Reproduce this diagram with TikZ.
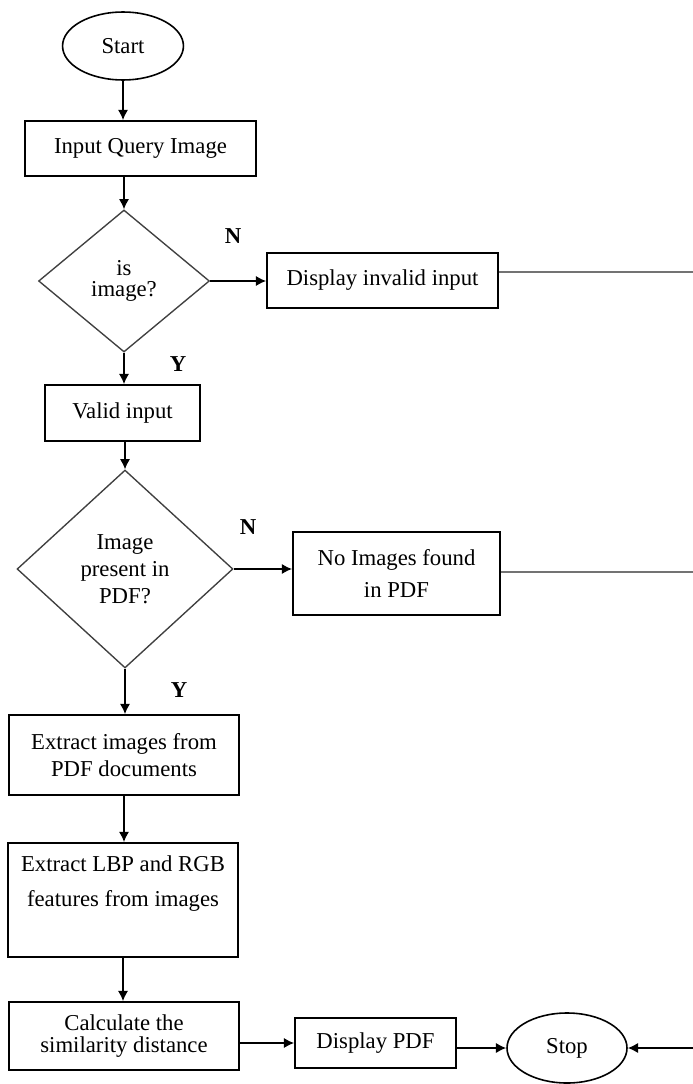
\documentclass[tikz,border=0pt]{standalone}
\usepackage{fontspec}
\setmainfont{Liberation Serif}
\usetikzlibrary{shapes.geometric,arrows.meta}

\tikzset{
  procbox/.style={rectangle, draw, line width=0.8pt, align=center, inner sep=2pt},
  termnode/.style={ellipse, draw, line width=0.7pt, inner sep=0pt},
  decision/.style={diamond, draw=black!75, line width=0.6pt, align=center, inner sep=0pt},
  flow/.style={line width=0.7pt, -{Latex[length=4.5pt,width=4.5pt]}},
  tolink/.style={line width=0.9pt, draw=black!55},
  answer/.style={font=\bfseries}
}

\begin{document}
\begin{tikzpicture}[x=0.44pt, y=-0.44pt]
\useasboundingbox (0,0) rectangle (693,1084);

% main column
\node[termnode, minimum width=53.2pt, minimum height=29.9pt] (start) at (123,46) {Start};
\node[procbox, minimum width=101.6pt, minimum height=24.2pt] (query) at (140.5,148.5) {Input Query Image};
\node[decision, minimum width=75.2pt, minimum height=62.5pt] (isimg) at (124,281) {is\\[-3pt]image?};
\node[procbox, minimum width=68.2pt, minimum height=24.6pt] (valid) at (122.5,413) {Valid input};
\node[decision, minimum width=95pt, minimum height=87.1pt] (pdfq) at (125,569) {Image\\present in\\PDF?};
\node[procbox, minimum width=101.2pt, minimum height=35.2pt] (extract) at (124,755) {Extract images from\\PDF documents};
\node[procbox, minimum width=101.2pt, minimum height=50.2pt,
      label={[align=center, anchor=north, inner sep=0pt, yshift=-6pt]north:Extract LBP and RGB\\[3.4pt]features from images}] (lbp) at (123,900) {};
\node[procbox, minimum width=101.2pt, minimum height=29.9pt] (calc) at (124,1036) {Calculate the\\[-2pt]similarity distance};

% side branches
\node[procbox, minimum width=101.6pt, minimum height=24.2pt] (invalid) at (382.5,280.5) {Display invalid input};
\node[procbox, minimum width=91.1pt, minimum height=36.5pt] (noimg) at (396.5,573.5) {No Images found\\[2pt]in PDF};
\node[procbox, minimum width=70.8pt, minimum height=22pt] (dpdf) at (375.5,1043) {Display PDF};
\node[termnode, minimum width=52.8pt, minimum height=30.8pt] (stop) at (567,1048) {Stop};

% answers
\node[answer] (n1) at (233,236) {N};
\node[answer] (y1) at (178,364) {Y};
\node[answer] (n2) at (248,527) {N};
\node[answer] (y2) at (179,690) {Y};

% free ends at the right edge
\coordinate (e1) at (693,272);
\coordinate (e2) at (693,572);
\coordinate (e3) at (693,1048);

\draw[flow] (start.south) -- (start.south |- query.north);
\draw[flow] (isimg.north |- query.south) -- (isimg.north);
\draw[flow] (isimg.east) -- (invalid.west |- isimg.east);
\draw[flow] (isimg.south) -- (isimg.south |- valid.north);
\draw[flow] (pdfq.north |- valid.south) -- (pdfq.north);
\draw[flow] (pdfq.east) -- (noimg.west |- pdfq.east);
\draw[flow] (pdfq.south) -- (pdfq.south |- extract.north);
\draw[flow] (extract.south) -- (extract.south |- lbp.north);
\draw[flow] (lbp.south) -- (lbp.south |- calc.north);
\draw[flow] (calc.east |- dpdf.west) -- (dpdf.west);
\draw[flow] (dpdf.east |- stop.west) -- (stop.west);
\draw[flow] (e3) -- (stop.east);
\draw[tolink] (invalid.east |- e1) -- (e1);
\draw[tolink] (noimg.east |- e2) -- (e2);
\end{tikzpicture}
\end{document}
